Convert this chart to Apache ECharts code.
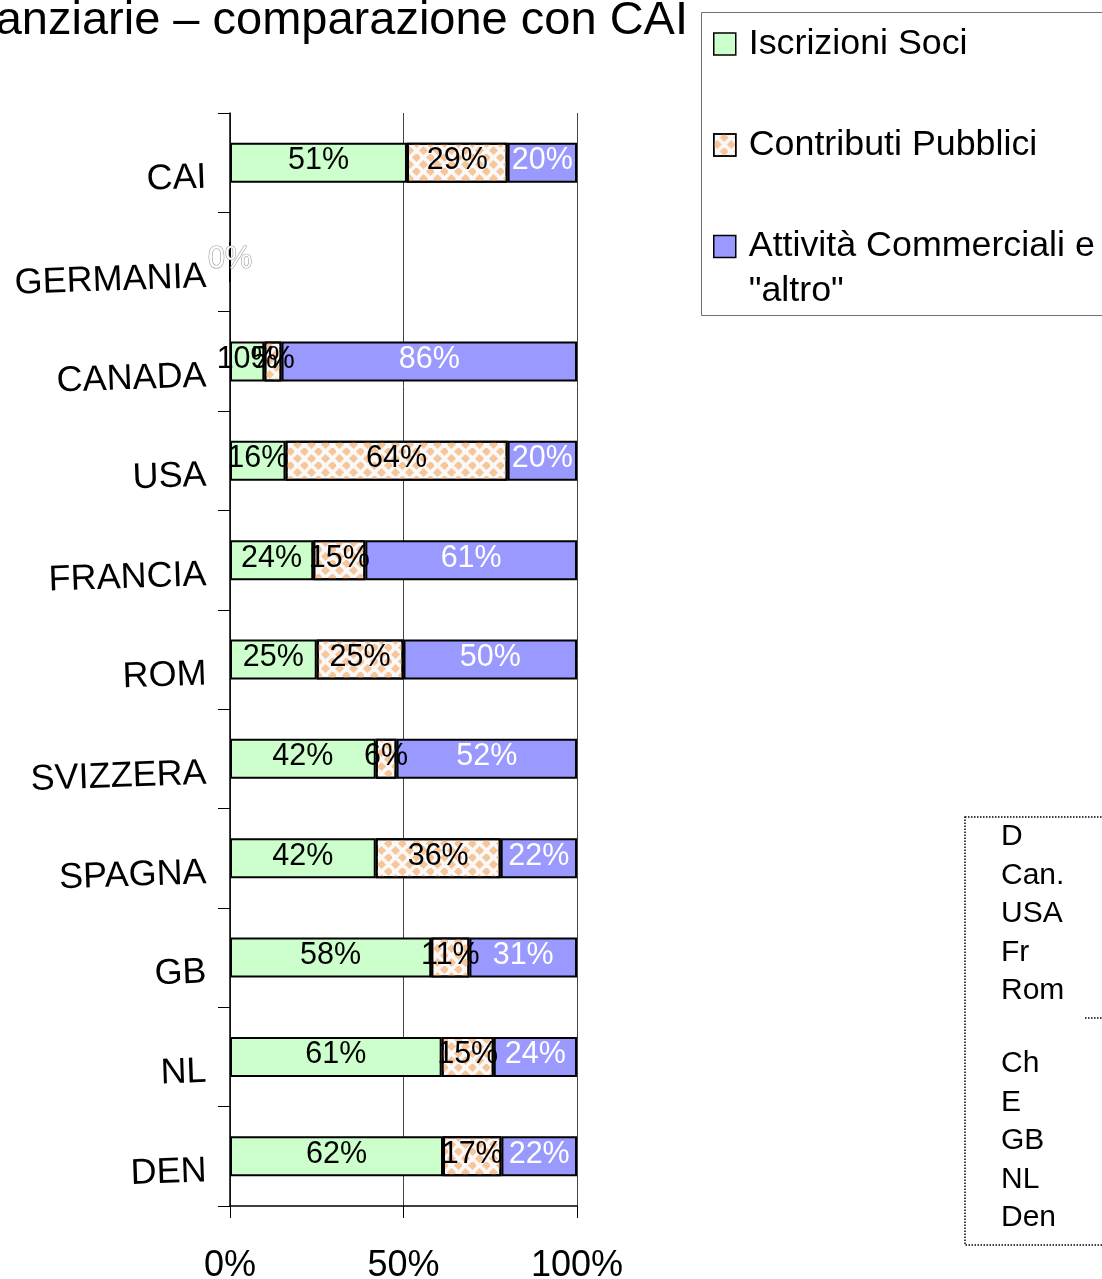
<!DOCTYPE html>
<html>
<head>
<meta charset="utf-8">
<script src="https://cdn.jsdelivr.net/npm/echarts@6/dist/echarts.min.js"></script>
<style>
html,body{margin:0;padding:0;background:#fff;}
#chart{width:1102px;height:1279px;}
</style>
</head>
<body>
<div id="chart"></div>
<script>
// ---- data ----
const categories = ['CAI','GERMANIA','CANADA','USA','FRANCIA','ROM','SVIZZERA','SPAGNA','GB','NL','DEN'];
const iscrizioniSoci      = [51, 0, 10, 16, 24, 25, 42, 42, 58, 61, 62];
const contributiPubblici  = [29, 0,  5, 64, 15, 25,  6, 36, 11, 15, 17];
const attivitaCommerciali = [20, 0, 86, 20, 61, 50, 52, 22, 31, 24, 22];
const seriesNames = ['Iscrizioni Soci', 'Contributi Pubblici', 'Attività Commerciali e "altro"'];
const xTickValues = [0, 50, 100];
const titleText = 'anziarie – comparazione con CAI';
const sideListTop = ['D', 'Can.', 'USA', 'Fr', 'Rom'];
const sideListBottom = ['Ch', 'E', 'GB', 'NL', 'Den'];

// ---- build ----
const FONT = '"Liberation Sans", Arial, sans-serif';
const raw = [iscrizioniSoci, contributiPubblici, attivitaCommerciali];
const totals = categories.map((c, i) => raw.reduce((s, arr) => s + arr[i], 0));
const shares = raw.map(arr => arr.map((v, i) => totals[i] ? v / totals[i] * 100 : 0));

const fills = ['#CCFFCC', '#FBF9F8', '#9999FF'];
const labelColors = ['#000', '#000', '#fff'];

const series = raw.map((arr, si) => ({
  name: seriesNames[si],
  type: 'bar',
  stack: 'total',
  barWidth: 40,
  itemStyle: Object.assign({
    color: fills[si],
    borderColor: '#000',
    borderWidth: 2
  }, si === 1 ? {
    decal: {
      symbol: 'diamond',
      symbolSize: 1.3,
      color: '#F7C59A',
      dashArrayX: [[7, 7], [0, 7, 7, 0]],
      dashArrayY: [7, 0],
      rotation: 0
    }
  } : {}),
  label: {
    show: true,
    position: 'inside',
    offset: [0, -2],
    fontFamily: FONT,
    fontSize: 30.5,
    color: labelColors[si],
    formatter: p => arr[p.dataIndex] + '%'
  },
  emphasis: {disabled: true},
  data: shares[si].map((v, i) => {
    if (totals[i] === 0) {
      if (si === 0) {
        return {value: v, label: {color: '#fff', textBorderColor: '#999', textBorderWidth: 1.2}};
      }
      return {value: v, label: {show: false}};
    }
    return v;
  })
}));

const graphics = [
  {type: 'text', x: 688, y: 21, style: {text: titleText, font: '47px ' + FONT, fill: '#000', align: 'right', verticalAlign: 'middle'}},
  {type: 'rect', shape: {x: 701.5, y: 12.5, width: 500, height: 303}, style: {fill: null, stroke: '#707070', lineWidth: 1}},
  {type: 'rect', shape: {x: 965, y: 817, width: 300, height: 428}, style: {fill: null, stroke: '#000', lineWidth: 1.5, lineDash: [1.5, 1.5]}},
  {type: 'line', shape: {x1: 1085, y1: 1018, x2: 1110, y2: 1018}, style: {stroke: '#000', lineWidth: 1.5, lineDash: [1.5, 1.5]}}
];
sideListTop.forEach((t, i) => graphics.push({type: 'text', x: 1001, y: 837 + i * 38.5, style: {text: t, font: '30px ' + FONT, fill: '#000', verticalAlign: 'middle'}}));
sideListBottom.forEach((t, i) => graphics.push({type: 'text', x: 1001, y: 1064 + i * 38.5, style: {text: t, font: '30px ' + FONT, fill: '#000', verticalAlign: 'middle'}}));

const legendCommon = {
  orient: 'vertical',
  left: 713,
  padding: 0,
  icon: 'rect',
  itemWidth: 22,
  itemHeight: 22,
  itemGap: 56,
  selectedMode: false,
  itemStyle: {borderColor: '#000', borderWidth: 1.5}
};

const option = {
  backgroundColor: '#fff',
  animation: false,
  textStyle: {fontFamily: FONT},
  legend: [
    Object.assign({}, legendCommon, {
      top: 21.5,
      data: [seriesNames[0], seriesNames[1]],
      textStyle: {fontFamily: FONT, fontSize: 35.8, color: '#000', lineHeight: 45, padding: [0, 0, 0, 8]}
    }),
    Object.assign({}, legendCommon, {
      top: 183.5,
      data: [seriesNames[2]],
      formatter: n => '{e| }\n{t|' + n.replace(' "altro"', '}\n{t|"altro"') + '}',
      textStyle: {
        fontFamily: FONT, fontSize: 35.8, color: '#000', padding: [0, 0, 0, 8],
        rich: {
          e: {fontSize: 35.8, lineHeight: 45},
          t: {fontFamily: FONT, fontSize: 35.8, color: '#000', lineHeight: 45}
        }
      }
    })
  ],
  grid: {left: 230, right: 525, top: 113, bottom: 73, containLabel: false, outerBoundsMode: 'none'},
  xAxis: {
    type: 'value',
    min: xTickValues[0],
    max: xTickValues[xTickValues.length - 1],
    interval: xTickValues[1] - xTickValues[0],
    axisLine: {show: true, lineStyle: {color: '#000', width: 1.5}},
    axisTick: {show: true, length: 12, lineStyle: {color: '#000', width: 1}},
    splitLine: {show: true, lineStyle: {color: '#444', width: 1}},
    axisLabel: {fontFamily: FONT, fontSize: 36, color: '#000', margin: 42, formatter: '{value}%'}
  },
  yAxis: {
    type: 'category',
    inverse: true,
    data: categories,
    axisLine: {show: true, lineStyle: {color: '#000', width: 1.5}},
    axisTick: {show: true, length: 12, lineStyle: {color: '#000', width: 1}},
    axisLabel: {fontFamily: FONT, fontSize: 36, color: '#000', margin: 24, rotate: 2, interval: 0, verticalAlign: 'top', lineHeight: 30}
  },
  series: series,
  graphic: graphics
};

const chart = echarts.init(document.getElementById('chart'), null, {renderer: 'canvas'});
chart.setOption(option);
</script>
</body>
</html>
